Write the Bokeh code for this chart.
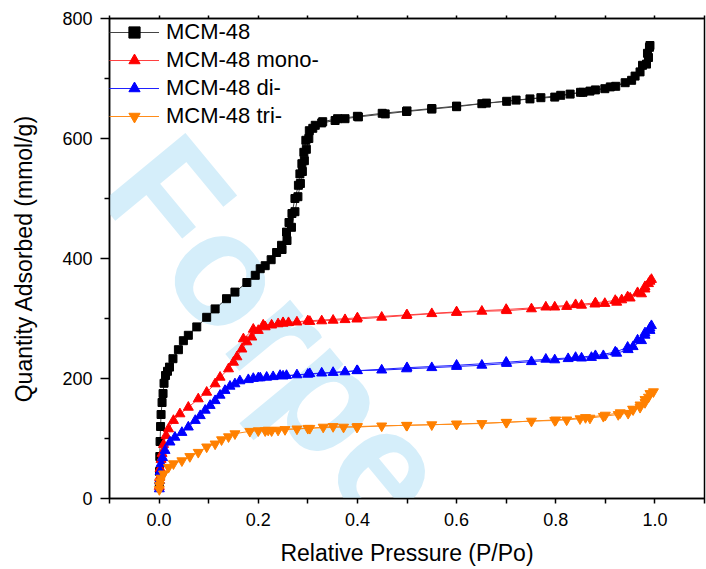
from bokeh.plotting import figure
from bokeh.models import (Range1d, FixedTicker, LinearAxis, Label, Legend)
from bokeh.embed import file_html
from bokeh.resources import INLINE

# ---------------- data ----------------
x_ticks = [0.0, 0.2, 0.4, 0.6, 0.8, 1.0]
x_tick_labels = ["0.0", "0.2", "0.4", "0.6", "0.8", "1.0"]
x_minor = [-0.1, 0.1, 0.3, 0.5, 0.7, 0.9, 1.1]
y_ticks = [0, 200, 400, 600, 800]
y_minor = [100, 300, 500, 700]

names = ["MCM-48", "MCM-48 mono-", "MCM-48 di-", "MCM-48 tri-"]

mcm_ads_x = [0.0005, 0.001, 0.0015, 0.002, 0.003, 0.004, 0.006, 0.008, 0.010, 0.013, 0.017, 0.021,
             0.028, 0.039, 0.049, 0.059, 0.076, 0.096, 0.113, 0.136, 0.153, 0.177, 0.194, 0.204,
             0.214, 0.226, 0.237, 0.247, 0.257, 0.262, 0.268, 0.274, 0.281, 0.284, 0.288, 0.292,
             0.296, 0.303, 0.315, 0.328, 0.355, 0.375, 0.402, 0.456, 0.499, 0.55, 0.6, 0.651,
             0.701, 0.748, 0.798, 0.829, 0.855, 0.869, 0.899, 0.921, 0.953, 0.970, 0.983, 0.987, 0.989]
mcm_ads_y = [22, 45, 70, 95, 120, 140, 160, 175, 192, 205, 212, 219,
             233, 248, 263, 272, 286, 302, 316, 333, 344, 360, 372, 383,
             388, 398, 410, 422, 444, 460, 475, 500, 522, 541, 558, 577,
             597, 613, 622, 626, 630, 633, 636, 641, 645, 649, 653, 658,
             662, 666, 669, 674, 677, 679, 683, 687, 697, 711, 724, 735, 752]
mcm_des_x = [0.99, 0.985, 0.975, 0.96, 0.94, 0.91, 0.88, 0.85, 0.81, 0.77, 0.72, 0.66, 0.6, 0.55,
             0.5, 0.45, 0.4, 0.36, 0.33, 0.31, 0.302, 0.297, 0.293, 0.289, 0.285, 0.280, 0.274,
             0.267, 0.258, 0.248]
mcm_des_y = [755, 742, 722, 704, 693, 686, 681, 677, 672, 668, 664, 659, 654, 650,
             646, 642, 637, 633, 628, 617, 600, 582, 563, 545, 525, 503, 478,
             452, 430, 415]

mono_ads_x = [0.0005, 0.001, 0.002, 0.004, 0.006, 0.009, 0.014, 0.019, 0.029, 0.042, 0.059, 0.079,
              0.096, 0.113, 0.123, 0.14, 0.15, 0.157, 0.167, 0.177, 0.187, 0.2, 0.214, 0.227, 0.24,
              0.25, 0.261, 0.278, 0.304, 0.328, 0.351, 0.375, 0.399, 0.449, 0.499, 0.55, 0.6, 0.651,
              0.701, 0.751, 0.798, 0.822, 0.852, 0.879, 0.899, 0.923, 0.933, 0.95, 0.973, 0.98,
              0.987, 0.993]
mono_ads_y = [20, 35, 50, 65, 75, 90, 105, 116, 130, 141, 152, 166,
              177, 191, 202, 216, 227, 236, 249, 261, 269, 280, 286, 289, 291,
              292, 293, 294, 295, 296, 297, 298, 299, 302, 305, 308, 310, 312,
              313, 316, 319, 320, 322, 324, 325, 327, 331, 334, 341, 349,
              358, 365]
mono_des_x = [0.99, 0.98, 0.965, 0.945, 0.92, 0.88, 0.84, 0.78, 0.7, 0.6, 0.5, 0.4, 0.3, 0.25,
              0.21, 0.19, 0.17]
mono_des_y = [362, 353, 343, 336, 330, 326, 323, 319, 315, 311, 306, 301, 296, 293,
              289, 282, 266]

di_ads_x = [0.0005, 0.001, 0.002, 0.004, 0.007, 0.012, 0.022, 0.032, 0.046, 0.059, 0.073, 0.083,
            0.093, 0.103, 0.113, 0.123, 0.133, 0.143, 0.153, 0.163, 0.19, 0.204, 0.217, 0.23,
            0.244, 0.257, 0.278, 0.304, 0.328, 0.351, 0.375, 0.399, 0.449, 0.499, 0.55, 0.6,
            0.651, 0.701, 0.751, 0.798, 0.825, 0.852, 0.872, 0.896, 0.923, 0.946, 0.956, 0.973,
            0.98, 0.99, 0.993]
di_ads_y = [16, 30, 45, 58, 68, 80, 94, 102, 110, 119, 130, 138,
            147, 155, 163, 172, 180, 187, 191, 196, 200, 201, 202, 203,
            205, 205, 206, 208, 209, 210, 211, 213, 214, 216, 218, 220,
            222, 225, 228, 231, 233, 234, 235, 238, 242, 248, 253, 263,
            272, 280, 288]
di_des_x = [0.99, 0.98, 0.965, 0.945, 0.92, 0.88, 0.84, 0.78, 0.7, 0.6, 0.5, 0.4, 0.3, 0.25,
            0.2, 0.18]
di_des_y = [284, 276, 264, 252, 244, 238, 235, 232, 227, 222, 218, 213, 207, 204,
            201, 198]

tri_ads_x = [0.0005, 0.001, 0.002, 0.004, 0.009, 0.019, 0.029, 0.046, 0.062, 0.079, 0.096, 0.113,
             0.126, 0.14, 0.153, 0.183, 0.2, 0.214, 0.227, 0.24, 0.254, 0.278, 0.304, 0.331,
             0.351, 0.372, 0.399, 0.449, 0.499, 0.55, 0.6, 0.651, 0.701, 0.751, 0.798, 0.822,
             0.849, 0.869, 0.896, 0.926, 0.946, 0.956, 0.97, 0.98, 0.987, 0.997]
tri_ads_y = [15, 22, 28, 34, 41, 52, 58, 63, 70, 77, 86, 91,
             98, 103, 108, 112, 113, 113, 113, 114, 115, 116, 117, 119,
             120, 119, 119, 121, 122, 123, 124, 125, 127, 129, 130, 131,
             133, 134, 137, 140, 142, 148, 152, 160, 169, 178]
tri_des_x = [0.99, 0.98, 0.97, 0.955, 0.93, 0.9, 0.86, 0.8, 0.7, 0.6, 0.5, 0.4, 0.3, 0.22]
tri_des_y = [175, 165, 156, 149, 143, 139, 135, 131, 127, 124, 122, 120, 117, 114]

# ---------------- figure ----------------
FONT = "Liberation Sans"

p = figure(width=706, height=569, output_backend="svg", toolbar_location=None,
           x_range=Range1d(-0.1, 1.1), y_range=Range1d(0, 800),
           min_border_left=109, min_border_right=2, min_border_top=18, min_border_bottom=71,
           background_fill_color="white", border_fill_color="white")
p.xgrid.visible = False
p.ygrid.visible = False
p.outline_line_color = "black"
p.outline_line_width = 1.5

# watermark
wm = Label(x=-42, y=282, x_units="screen", y_units="screen", text="Forpeer",
           angle=-0.88, text_font=FONT, text_font_size="160px", text_font_style="bold",
           text_color="#d5eefa", level="underlay")
p.add_layout(wm)

series = [
    (names[0], mcm_ads_x, mcm_ads_y, mcm_des_x, mcm_des_y, "black", "#444444", "square", 8),
    (names[1], mono_ads_x, mono_ads_y, mono_des_x, mono_des_y, "#ff0000", "#ff4040", "triangle", 10),
    (names[2], di_ads_x, di_ads_y, di_des_x, di_des_y, "#0000ff", "#2020ff", "triangle", 10),
    (names[3], tri_ads_x, tri_ads_y, tri_des_x, tri_des_y, "#ff8000", "#ff8c1a", "inverted_triangle", 10),
]
for name, ax, ay, dx, dy, col, lcol, marker, size in series:
    p.line(ax, ay, line_color=lcol, line_width=1, legend_label=name)
    p.line(dx, dy, line_color=lcol, line_width=1)
    p.scatter(dx, dy, marker=marker, size=size, fill_color=col, line_color=col)
    p.scatter(ax, ay, marker=marker, size=size, fill_color=col, line_color=col, legend_label=name)

# axes
xa = p.xaxis[0]
xa.ticker = FixedTicker(ticks=x_ticks, minor_ticks=x_minor)
xa.major_label_overrides = {t: l for t, l in zip(x_ticks, x_tick_labels)}
ya = p.yaxis[0]
ya.ticker = FixedTicker(ticks=y_ticks, minor_ticks=y_minor)

for ax_, tick_out in ((xa, 5), (ya, 9)):
    ax_.axis_line_width = 1.5
    ax_.axis_line_color = "black"
    ax_.major_tick_line_width = 1.5
    ax_.minor_tick_line_width = 1.5
    ax_.major_tick_out = tick_out
    ax_.major_tick_in = 0
    ax_.minor_tick_out = 5
    ax_.minor_tick_in = 0
    ax_.major_label_text_font = FONT
    ax_.major_label_text_font_size = "18px"
    ax_.major_label_text_color = "black"
    ax_.axis_label_text_font = FONT
    ax_.axis_label_text_font_size = "23px"
    ax_.axis_label_text_font_style = "normal"
    ax_.axis_label_text_color = "black"

xa.axis_label = "Relative Pressure (P/Po)"
ya.axis_label = "Quantity Adsorbed (mmol/g)"
xa.major_label_standoff = 9
xa.axis_label_standoff = 11
ya.major_label_standoff = 8
ya.axis_label_standoff = 22

top = LinearAxis(ticker=FixedTicker(ticks=x_ticks, minor_ticks=x_minor),
                 major_label_text_font_size="0px", major_tick_out=3, major_tick_in=0,
                 minor_tick_out=3, minor_tick_in=0, axis_line_width=1.5,
                 major_tick_line_width=1.5, minor_tick_line_width=1.5)
top.major_label_overrides = {t: "" for t in x_ticks}
p.add_layout(top, "above")

leg = p.legend[0]
leg.location = "top_left"
leg.margin = 0
leg.padding = 1
leg.spacing = 0
leg.border_line_color = None
leg.background_fill_alpha = 0
leg.glyph_width = 50
leg.glyph_height = 28
leg.label_height = 28
leg.label_standoff = 7
leg.label_text_font = FONT
leg.label_text_font_size = "22px"
leg.label_text_color = "black"

open("out.html", "w").write(file_html(p, INLINE))
